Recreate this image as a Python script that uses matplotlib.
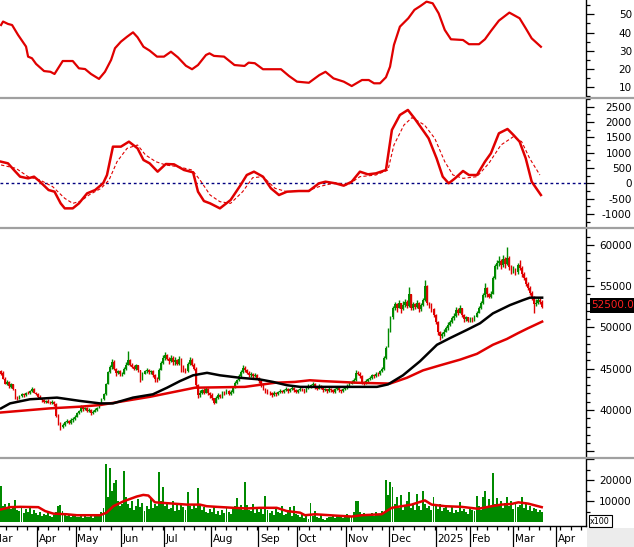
import numpy as np
import matplotlib
matplotlib.use("Agg")
import matplotlib.pyplot as plt
from matplotlib.lines import Line2D
from matplotlib.patches import Rectangle
import matplotlib.transforms as mtransforms

plt.rcParams['font.family'] = ['DejaVu Sans']
plt.rcParams['axes.unicode_minus'] = False

# ---------------- data (prices in units of 100 VND) ----------------
opens = [447, 445, 438, 431, 434, 428, 431, 425, 415, 414,
         417, 419, 418, 421, 420, 423, 426, 421, 419, 416,
         414, 412, 410, 411, 409, 408, 410, 407, 393, 384,
         379, 382, 385, 387, 384, 388, 389, 392, 396, 399,
         404, 401, 403, 399, 400, 396, 398, 400, 403, 408,
         413, 419, 432, 446, 452, 458, 450, 445, 447, 443,
         444, 450, 455, 460, 455, 452, 450, 454, 448, 437,
         444, 447, 449, 446, 447, 442, 438, 437, 449, 457,
         463, 466, 462, 459, 463, 458, 460, 456, 462, 452,
         449, 447, 456, 461, 455, 450, 430, 418, 421, 424,
         421, 426, 420, 418, 414, 409, 415, 418, 416, 421,
         420, 423, 419, 422, 428, 433, 436, 441, 446, 451,
         448, 445, 442, 444, 441, 442, 439, 435, 430, 426,
         423, 421, 420, 418, 421, 419, 422, 423, 422, 424,
         426, 423, 425, 427, 424, 422, 424, 426, 425, 423,
         427, 429, 430, 432, 428, 426, 429, 427, 424, 425,
         423, 426, 424, 422, 425, 427, 424, 423, 425, 427,
         429, 432, 434, 436, 445, 444, 441, 433, 432, 435,
         437, 439, 442, 441, 444, 443, 447, 450, 463, 478,
         497, 512, 524, 528, 524, 529, 522, 527, 531, 526,
         540, 523, 528, 525, 530, 522, 527, 533, 550, 529,
         527, 522, 515, 507, 494, 489, 492, 495, 499, 503,
         506, 511, 514, 521, 518, 523, 515, 510, 512, 508,
         511, 509, 513, 518, 523, 529, 539, 548, 540, 537,
         541, 560, 574, 578, 580, 575, 583, 577, 584, 573,
         569, 570, 567, 575, 572, 565, 560, 553, 548, 542,
         536, 528, 530, 533, 531]
highs = [449, 447, 440, 436, 435, 433, 432, 426, 417, 418,
         421, 420, 422, 423, 424, 428, 427, 422, 420, 418,
         415, 413, 412, 413, 411, 412, 411, 408, 395, 386,
         384, 387, 389, 388, 390, 391, 394, 398, 400, 406,
         405, 404, 404, 403, 401, 400, 402, 404, 409, 415,
         421, 433, 447, 455, 462, 460, 451, 449, 448, 446,
         452, 458, 472, 462, 457, 454, 456, 455, 449, 446,
         449, 451, 450, 449, 448, 443, 440, 451, 459, 466,
         470, 468, 464, 466, 465, 464, 462, 465, 463, 454,
         451, 458, 464, 463, 457, 452, 432, 424, 426, 427,
         428, 427, 422, 420, 415, 417, 420, 419, 423, 423,
         425, 424, 424, 429, 435, 438, 443, 449, 454, 453,
         450, 447, 446, 445, 445, 443, 440, 437, 431, 427,
         425, 423, 422, 423, 422, 423, 425, 424, 426, 428,
         427, 427, 429, 428, 425, 426, 428, 427, 426, 429,
         431, 432, 434, 433, 429, 431, 430, 428, 427, 426,
         428, 427, 425, 427, 429, 428, 425, 427, 429, 431,
         434, 436, 439, 448, 447, 446, 442, 435, 437, 439,
         441, 444, 443, 446, 446, 449, 452, 465, 477, 499,
         514, 526, 531, 530, 533, 530, 532, 534, 533, 549,
         541, 531, 530, 533, 531, 530, 536, 557, 551, 531,
         529, 523, 516, 508, 496, 495, 498, 502, 506, 509,
         514, 517, 525, 523, 527, 524, 516, 514, 513, 513,
         512, 515, 520, 526, 532, 542, 554, 549, 542, 544,
         562, 577, 582, 586, 583, 588, 585, 597, 586, 575,
         574, 572, 578, 581, 574, 567, 561, 555, 550, 544,
         538, 534, 537, 535, 533]
lows = [442, 437, 431, 430, 427, 427, 424, 413, 412, 413,
        416, 416, 417, 419, 419, 422, 420, 418, 415, 413,
        410, 409, 408, 408, 407, 407, 405, 392, 382, 376,
        378, 381, 384, 383, 383, 386, 388, 391, 395, 398,
        399, 400, 398, 397, 394, 395, 397, 399, 402, 407,
        412, 418, 431, 445, 450, 448, 441, 443, 441, 441,
        443, 449, 454, 453, 451, 448, 449, 446, 434, 436,
        443, 445, 444, 444, 440, 434, 434, 436, 448, 456,
        461, 460, 456, 458, 455, 455, 454, 455, 446, 446,
        445, 446, 455, 453, 448, 428, 415, 416, 419, 419,
        420, 418, 415, 412, 407, 408, 413, 414, 415, 418,
        419, 418, 418, 421, 427, 432, 435, 440, 445, 446,
        443, 440, 440, 439, 440, 437, 433, 428, 424, 421,
        419, 418, 416, 417, 417, 418, 421, 420, 421, 423,
        421, 422, 424, 422, 420, 421, 423, 423, 421, 422,
        426, 427, 429, 426, 424, 425, 425, 422, 423, 421,
        422, 422, 420, 421, 424, 422, 421, 422, 424, 426,
        428, 431, 433, 435, 442, 439, 431, 430, 431, 434,
        436, 438, 439, 440, 441, 442, 446, 449, 462, 476,
        495, 510, 521, 519, 523, 518, 521, 525, 524, 525,
        521, 521, 522, 524, 519, 520, 526, 532, 527, 524,
        519, 512, 504, 491, 485, 487, 490, 494, 497, 502,
        505, 509, 513, 515, 517, 512, 507, 508, 506, 507,
        507, 508, 512, 517, 522, 528, 537, 537, 535, 536,
        540, 558, 571, 574, 571, 573, 572, 575, 570, 565,
        566, 563, 565, 569, 561, 557, 550, 545, 539, 533,
        517, 526, 528, 528, 524]
closes = [444, 438, 432, 434, 429, 431, 425, 416, 414, 417,
          419, 418, 421, 420, 423, 426, 421, 419, 416, 414,
          412, 410, 411, 409, 408, 410, 407, 393, 384, 379,
          382, 385, 387, 384, 388, 389, 392, 396, 399, 404,
          401, 403, 399, 400, 396, 398, 400, 403, 408, 413,
          419, 432, 446, 452, 458, 450, 445, 447, 443, 444,
          450, 455, 460, 455, 452, 450, 454, 448, 437, 444,
          447, 449, 446, 447, 442, 438, 437, 449, 457, 463,
          466, 462, 459, 463, 458, 460, 456, 462, 452, 449,
          447, 456, 461, 455, 450, 430, 418, 421, 424, 421,
          426, 420, 418, 414, 409, 415, 418, 416, 421, 420,
          423, 419, 422, 428, 433, 436, 441, 446, 451, 448,
          445, 442, 444, 441, 442, 439, 435, 430, 426, 423,
          421, 420, 418, 421, 419, 422, 423, 422, 424, 426,
          423, 425, 427, 424, 422, 424, 426, 425, 423, 427,
          429, 430, 432, 428, 426, 429, 427, 424, 425, 423,
          426, 424, 422, 425, 427, 424, 423, 425, 427, 429,
          432, 434, 436, 445, 444, 441, 433, 432, 435, 437,
          439, 442, 441, 444, 443, 447, 450, 463, 475, 497,
          512, 524, 528, 524, 529, 522, 527, 531, 526, 540,
          523, 528, 525, 530, 522, 527, 533, 550, 529, 527,
          522, 515, 507, 494, 489, 492, 495, 499, 503, 506,
          511, 514, 521, 518, 523, 515, 510, 512, 508, 511,
          509, 513, 518, 523, 529, 539, 548, 540, 537, 541,
          560, 574, 578, 580, 575, 583, 577, 584, 573, 569,
          570, 567, 575, 572, 565, 560, 553, 548, 542, 536,
          528, 530, 533, 531, 525]
volumes = [17400, 8000, 9000, 7000, 9500, 6500, 8000, 10800, 6000, 5500,
           7000, 4500, 6500, 5000, 7000, 4000, 6000, 4500, 3500, 5000,
           3000, 4000, 3500, 4500, 3000, 2500, 3500, 5000, 7700, 8500,
           5500, 3500, 3000, 4000, 2500, 3000, 3500, 2800, 2500, 3000,
           2000, 3500, 2500, 2800, 3000, 2200, 3500, 4000, 3000, 5000,
           7000, 27700, 12000, 26000, 15000, 19000, 20000, 10000, 8000, 9000,
           24600, 12000, 9000, 7000, 10000, 6000, 8000, 11000, 7500, 9500,
           5500, 8000, 6500, 11500, 7000, 9000, 8000, 23900, 10000, 17000,
           8000, 9500, 6500, 7000, 10000, 5500, 8500, 6000, 9000, 7500,
           6000, 14700, 8000, 6500, 9000, 7000, 16200, 9000, 6000, 7500,
           5000, 4500, 6500, 5000, 8000, 4000, 5500, 3500, 6000, 4500,
           7000, 5000, 4000, 6500, 8000, 11600, 7000, 8500, 6000, 19300,
           8500, 6000, 5500, 9000, 4500, 7000, 5000, 6500, 4000, 12400,
           6000, 4500, 5500, 3500, 7000, 5000, 4500, 8000, 3500, 4000,
           5000, 7500, 3000, 7700, 4000, 3500, 2500, 4500, 2000, 3000,
           1500, 9300, 3000, 5500, 2500, 2000, 4000, 1500, 1000, 2000,
           2500, 2500, 3000, 2000, 3500, 2500, 3000, 2000, 3500, 4000,
           2500, 3000, 5000, 10000, 10400, 5000, 3500, 4500, 3000, 4000,
           3500, 4500, 3000, 5000, 4000, 3500, 5500, 4500, 20000, 13000,
           19300, 17000, 9000, 12000, 7000, 13000, 6000, 8500, 10000, 14700,
           7000, 9000, 6000, 13400, 8000, 6000, 15000, 9000, 7000, 8000,
           6000, 12000, 8000, 6500, 9000, 5500, 7000, 8000, 6000, 5000,
           7500, 4500, 6000, 5000, 9600, 5500, 6500, 5000, 4000, 7000,
           6000, 5500, 12800, 8000, 6000, 12000, 15000, 7000, 11000, 8000,
           23400, 9000, 11500, 8000, 10000, 7000, 9500, 12000, 8000, 10000,
           6500, 9000, 7500, 8500, 12000, 7000, 9000, 6000, 8000, 5500,
           7000, 6500, 5000, 6000, 5000]

# moving averages (day index, value)
ma_black_day = [0, 4.4, 14.1, 27.3, 38.5, 48.3, 54.6, 64.4, 74.1, 81, 87.3, 93.7, 100.5,
                106.8, 116.6, 126.3, 132.7, 139.5, 145.9, 155.6, 166.8, 183.4, 188.8,
                196.1, 204.4, 212.7, 219, 227.3, 233.7, 240, 248.3, 254.6, 258, 264]
ma_black = [402, 408, 413, 415, 411, 408, 408, 415, 419, 427, 435, 442, 445,
            442, 439, 437, 434, 430, 428, 428, 428, 428, 431,
            442, 459, 479, 487, 497, 505, 517, 527, 533, 536, 536]
ma_red_day = [0, 23.9, 38.5, 48.3, 72.7, 94.6, 119, 133.7, 143.4, 150.7, 157, 173.7,
              189.8, 198, 205.9, 214.1, 224, 232.2, 240, 246.8, 252.2, 257.1, 264]
ma_red = [397, 402, 404, 406, 416, 427, 428, 433, 434, 436, 435, 433,
          432, 439, 448, 454, 461, 468, 479, 486, 493, 499, 507]

vol_ma_day = [0, 4.4, 9.3, 18.2, 21.5, 25.5, 32, 37, 48.3, 51.5, 54.8, 59.7, 66.2, 69.4,
              71.9, 75.1, 84, 90.6, 97, 100.3, 105.2, 113.3, 119.8, 126.3, 134.5, 139.4,
              145.9, 148.3, 153.2, 162.9, 171.1, 176, 185.7, 190.6, 195.5, 200.3, 206.8,
              210.1, 216.6, 224.7, 232.8, 239.4, 244.2, 249.1, 252.4, 257.2, 263.8]
vol_ma = [6220, 7300, 7450, 7300, 5450, 4220, 3920, 3460, 3460, 4680, 7760, 10060, 12360, 13130,
          12830, 9600, 8990, 8520, 8520, 7760, 7450, 6990, 6680, 6990, 6990, 5450,
          4680, 3460, 3920, 3300, 2840, 3460, 3920, 6990, 7760, 8520, 10520,
          8520, 7760, 7450, 6530, 7760, 8520, 8830, 9600, 8990, 7300]

# top indicator
ind_day = [0, 1, 3.4, 5.4, 8.3, 12.2, 13.2, 15.1, 17.1, 21, 24.1, 26.1, 30.1, 35, 38, 41, 43.9,
           47.8, 50.7, 53.7, 55.6, 58.5, 61.5, 64.4, 66.6, 69.5, 72.5, 76.1, 79.5, 82.9, 86.3,
           90.2, 93.2, 96.1, 100, 101.7, 103.9, 108.8, 113.9, 118.8, 120.8, 123.8, 127.8,
           136.6, 140.5, 144.4, 150.2, 155.3, 158.3, 162.2, 167.2, 171.1, 176.1, 179.4, 182,
           184.9, 187.8, 189.8, 191.7, 194.6, 198.7, 201.7, 204.6, 207.6, 210.6, 213.5,
           216.5, 219.5, 225.4, 228.3, 233.2, 236.1, 239, 242.9, 248, 253, 256, 258.9, 263.4]
ind_val = [44.1, 46, 44.7, 44.1, 38.7, 32.3, 26.8, 25.9, 22.8, 18.9, 18.5, 17.3, 24.4, 24.4,
           20.4, 20, 17.3, 14.6, 18.5, 25, 31.4, 35, 37.7, 40.1, 37.4, 32.2, 30.1, 26.8, 26.8,
           29.5, 26.4, 21.8, 19.9, 22.2, 27.7, 28.6, 27.2, 26.8, 22.2, 21.7, 23.5, 23.2, 19.9,
           19.9, 16.2, 13.1, 12.5, 16.7, 18.5, 14.9, 13.1, 10.7, 14, 14, 12.2, 12.2, 15.5,
           21.3, 33.2, 43.2, 47.8, 52.4, 54.5, 56.9, 56, 50.5, 41.4, 36.3, 35.9, 33.6, 33.6,
           36.3, 40.8, 46.5, 50.9, 47.8, 42.3, 36.8, 32.2]

# MACD
macd_day = [0, 3.4, 6.3, 9.3, 13.2, 16.1, 19, 23.2, 26.1, 29.1, 31.1, 35, 38, 42, 45.9, 49.8,
            51.7, 54.6, 58.5, 62.4, 66.6, 69.5, 72.5, 76.4, 80.4, 84.4, 89.3, 93.7, 96.1, 99,
            102, 106.8, 112, 116.9, 119.9, 123.4, 127.8, 131.7, 135.6, 139.5, 145.4, 150.2,
            155.1, 158.3, 163.2, 167.2, 171.1, 175.1, 179, 182.9, 187.8, 190.7, 194.6, 198.5,
            201.7, 204.6, 208.6, 212.5, 215.5, 218.4, 221.5, 225.4, 228.3, 232.2, 236.1, 239,
            242.9, 247.1, 250, 253, 256, 258.9, 263.4]
macd_val = [707, 653, 435, 218, 163, 218, 54, -218, -272, -653, -816, -816, -653, -326, -218, 0,
            272, 1197, 1197, 1360, 1142, 762, 653, 381, 631, 620, 435, 359, -272, -577,
            -653, -816, -544, -54, 272, 381, 218, -163, -381, -272, -250, -250,
            0, 54, 0, -76, 54, 381, 294, 326, 435, 1741, 2230, 2394,
            2122, 1850, 1469, 816, 218, 0, 163, 403, 272, 272, 707, 979,
            1632, 1773, 1578, 1360, 816, 54, -381]
signal_day = [0, 7.3, 13.2, 19, 25.2, 31.1, 35, 39, 42.9, 48.8, 52.7, 56.6, 61.5, 66.6, 70.5,
              75.5, 80.4, 86.3, 93.2, 97.1, 102, 106.8, 112, 117.9, 122.8, 127.8, 133.7,
              139.5, 149.3, 155.1, 163.2, 169.2, 175.1, 182.9, 188.8, 191.7, 196.6, 200.5,
              206.6, 211.6, 216.5, 220.5, 225.4, 232.2, 238, 243.9, 250, 254, 257.9, 262.9]
signal_val = [600, 490, 218, 109, -109, -490, -653, -577, -381, -163, 109, 707, 1142, 1251, 925,
              707, 598, 544, 435, 109, -381, -598, -653, -272, 185, 218, -163,
              -272, -250, -109, 22, -54, 218, 272, 435, 1251, 1904, 2143,
              1904, 1469, 707, 272, 163, 218, 653, 1251, 1523, 1360, 816, 272]

month_labels = ['Mar', 'Apr', 'May', 'Jun', 'Jul', 'Aug', 'Sep', 'Oct', 'Nov', 'Dec',
                '2025', 'Feb', 'Mar', 'Apr']
month_pos = [-4.6, 17.6, 36.4, 58.5, 79.5, 102.4, 125.4, 144.4, 168.3, 189.3,
             212, 228.8, 249.8, 270.7]

PRICE_UNIT = 100

# ---------------- layout ----------------
W, H = 634, 547
fig = plt.figure(figsize=(W / 100, H / 100), dpi=100)
fig.patch.set_facecolor('white')


def fx(px):
    return px / W


def fy(py):
    return 1 - py / H


AX_R = 586
XLIM = (-0.5, 285.4)
RED = '#e00000'
GREEN = '#008a00'
FS = 7.5


def add_panel(top, bottom):
    ax = fig.add_axes([0, fy(bottom), fx(AX_R), (bottom - top) / H])
    ax.set_xlim(*XLIM)
    ax.set_facecolor('white')
    for s in ['top', 'left', 'bottom']:
        ax.spines[s].set_visible(False)
    ax.spines['right'].set_color('black')
    ax.spines['right'].set_linewidth(1)
    ax.set_xticks([])
    ax.yaxis.tick_right()
    ax.tick_params(axis='y', which='major', length=5.8, width=0.9, direction='out',
                   labelsize=FS, pad=27.2, colors='black')
    ax.tick_params(axis='y', which='minor', length=2.9, width=0.9, direction='out')
    return ax


def right_align(ax):
    for lbl in ax.get_yticklabels(which='major'):
        lbl.set_horizontalalignment('right')


ax1 = add_panel(0, 97)
ax2 = add_panel(98, 227)
ax3 = add_panel(228.5, 457)
ax4 = add_panel(458, 526)

# Panel 1: indicator
ax1.plot(ind_day, ind_val, color=RED, lw=1.6, solid_joinstyle='round')
ax1.set_ylim(4.7, 57.8)
ax1.set_yticks([10, 20, 30, 40, 50])
ax1.set_yticks([5, 15, 25, 35, 45, 55], minor=True)
right_align(ax1)

# Panel 2: MACD
ax2.axhline(0, color='#000080', lw=1.0, ls=(0, (2, 2)))
ax2.plot(signal_day, signal_val, color=RED, lw=0.8, ls=(0, (3, 2)))
ax2.plot(macd_day, macd_val, color=RED, lw=1.8, solid_joinstyle='round')
ax2.set_ylim(-1424, 2784)
ax2.set_yticks(list(range(-1000, 2501, 500)))
ax2.set_yticks(list(range(-1250, 2751, 500)), minor=True)
right_align(ax2)

# Panel 3: candles
o = np.array(opens) * PRICE_UNIT
h = np.array(highs) * PRICE_UNIT
l = np.array(lows) * PRICE_UNIT
c = np.array(closes) * PRICE_UNIT
days = np.arange(len(c))
up = c >= o
cols = np.where(up, GREEN, RED)
ax3.vlines(days, l, h, colors=cols, lw=1.0)
body_bottom = np.minimum(o, c)
body_h = np.maximum(np.abs(c - o), 60)
ax3.bar(days, body_h, bottom=body_bottom, width=0.85, color=cols, linewidth=0)
ax3.plot(ma_red_day, np.array(ma_red) * PRICE_UNIT, color=RED, lw=1.8)
ax3.plot(ma_black_day, np.array(ma_black) * PRICE_UNIT, color='black', lw=1.8)
ax3.set_ylim(34310, 61974)
ax3.set_yticks([35000, 40000, 45000, 50000, 55000, 60000])
ax3.set_yticklabels(['', '40000', '45000', '50000', '55000', '60000'])
ax3.set_yticks(list(range(35000, 61001, 1000)), minor=True)
right_align(ax3)

# Panel 4: volume
ax4.bar(days, volumes, width=0.95, color=GREEN, linewidth=0)
ax4.plot(vol_ma_day, vol_ma, color=RED, lw=1.8)
ax4.set_ylim(-1670, 30700)
ax4.set_yticks([10000, 20000, 30000])
ax4.set_yticklabels(['10000', '20000', ''])
ax4.set_yticks([5000, 15000, 25000], minor=True)
right_align(ax4)
ax4.spines['bottom'].set_visible(True)
ax4.spines['bottom'].set_color('black')
ax4.spines['bottom'].set_linewidth(1)
ax4.set_xticks(month_pos)
ax4.set_xticklabels([])
ax4.set_xticks(np.arange(2.5, 285, 5.1), minor=True)
ax4.tick_params(axis='x', which='major', length=15.5, width=0.9, direction='out')
ax4.tick_params(axis='x', which='minor', length=2.9, width=0.9, direction='out')
ax4.set_xlim(*XLIM)

trans = mtransforms.blended_transform_factory(ax4.transData, fig.transFigure)
for pos, lab in zip(month_pos, month_labels):
    fig.text(pos + 0.9, fy(538.5), lab, transform=trans, ha='left', va='center',
             fontsize=FS, color='black', clip_on=False)

# separators
for yy in [97.5, 227.8, 457.5]:
    fig.add_artist(Line2D([0, 1], [fy(yy), fy(yy)], transform=fig.transFigure,
                          color='#a0a0a0', lw=1.6))

# bottom-right gray
fig.add_artist(Rectangle((fx(587), 0), 1 - fx(587), fy(527.5), transform=fig.transFigure,
                         facecolor='#ececec', edgecolor='none'))

# x100 box
fig.add_artist(Rectangle((fx(588.5), fy(527)), fx(23), 12 / H, transform=fig.transFigure,
                         facecolor='white', edgecolor='black', lw=0.8))
fig.text(fx(590), fy(521), 'x100', fontsize=5.8, ha='left', va='center')

# last price label
fig.add_artist(Rectangle((fx(590), fy(312.5)), 1 - fx(590), 15 / H, transform=fig.transFigure,
                         facecolor='black', edgecolor='none'))
fig.text(fx(591.5), fy(305.5), f"{closes[-1] * PRICE_UNIT:.2f}", fontsize=FS,
         color='#ff2020', ha='left', va='center')

fig.savefig('out.png', dpi=100, facecolor='white')
